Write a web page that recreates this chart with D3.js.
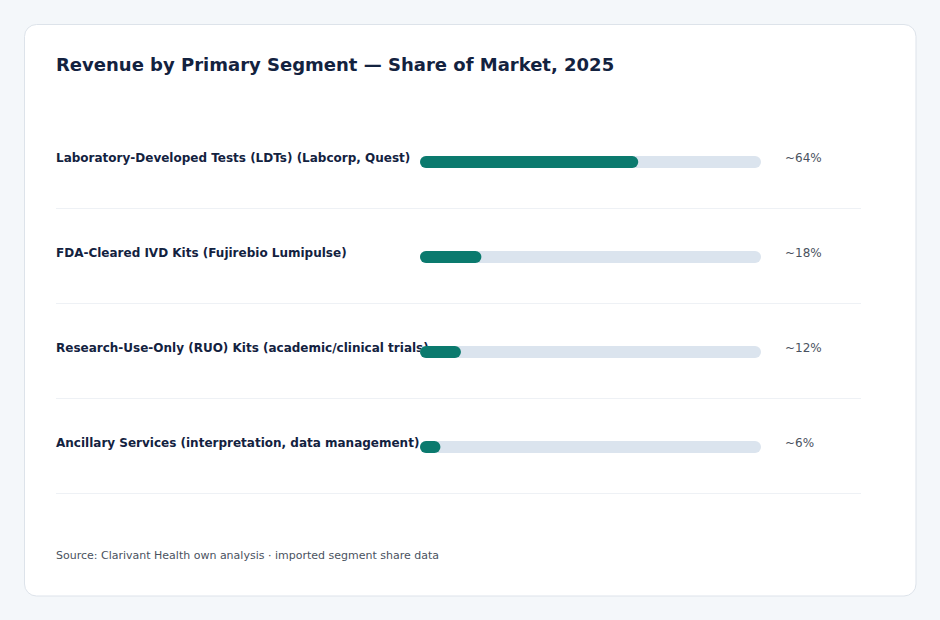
<!DOCTYPE html>
<html>
<head>
<meta charset="utf-8">
<script src="https://cdn.jsdelivr.net/npm/d3@7"></script>
<style>
  body { margin: 0; background: #f4f7fa; font-family: "DejaVu Sans", sans-serif; }
  svg { display: block; }
</style>
</head>
<body>
<svg></svg>
<script>
// segment data
var segments = [
	'Laboratory-Developed Tests (LDTs) (Labcorp, Quest)',
	'FDA-Cleared IVD Kits (Fujirebio Lumipulse)',
	'Research-Use-Only (RUO) Kits (academic/clinical trials)',
	'Ancillary Services (interpretation, data management)'
];
var shares = [64, 18, 12, 6];
var shareLabels = ['~64%', '~18%', '~12%', '~6%'];

var W = 940, H = 620;
var svg = d3.select('svg').attr('width', W).attr('height', H);

// card
svg.append('rect')
	.attr('x', 24.5).attr('y', 24.5)
	.attr('width', 891.5).attr('height', 571.5)
	.attr('rx', 12)
	.attr('fill', '#fff')
	.attr('stroke', '#dde3ea');

svg.append('text')
	.attr('x', 56).attr('y', 71)
	.attr('font-size', 18).attr('font-weight', 'bold')
	.attr('fill', '#13223f')
	.text('Revenue by Primary Segment \u2014 Share of Market, 2025');

var y = d3.scaleBand().domain(segments).range([113, 493]);
var x = d3.scaleLinear().domain([0, 100]).range([420, 761]);

var row = svg.append('g').selectAll('g')
	.data(segments)
	.enter().append('g')
	.attr('transform', function(d) { return 'translate(0,' + y(d) + ')'; });

row.append('line')
	.attr('x1', 56).attr('x2', 861)
	.attr('y1', y.bandwidth() + 0.5).attr('y2', y.bandwidth() + 0.5)
	.attr('stroke', '#eef1f5');

row.append('text')
	.attr('x', 56).attr('y', 49)
	.attr('font-size', 12).attr('font-weight', 'bold')
	.attr('fill', '#13223f')
	.text(function(d) { return d; });

row.append('rect')
	.attr('x', x(0)).attr('y', 43)
	.attr('width', x(100) - x(0)).attr('height', 12)
	.attr('rx', 6)
	.attr('fill', '#dbe4ee');

row.append('rect')
	.attr('x', x(0)).attr('y', 43)
	.attr('width', function(d, i) { return x(shares[i]) - x(0); })
	.attr('height', 12)
	.attr('rx', 6)
	.attr('fill', '#0b7a6e');

row.append('text')
	.attr('x', 785).attr('y', 49)
	.attr('font-size', 12)
	.attr('fill', '#4a5260')
	.text(function(d, i) { return shareLabels[i]; });

svg.append('text')
	.attr('x', 56).attr('y', 559)
	.attr('font-size', 11)
	.attr('fill', '#4a5260')
	.text('Source: Clarivant Health own analysis \u00b7 imported segment share data');
</script>
</body>
</html>
